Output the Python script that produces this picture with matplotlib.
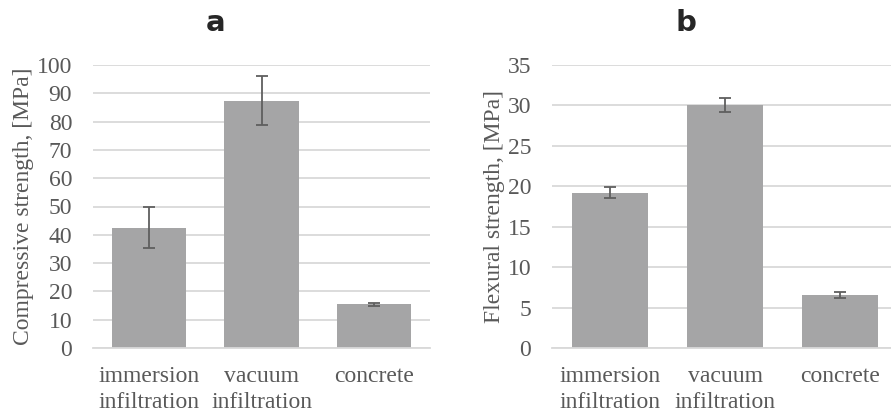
import matplotlib
matplotlib.use("Agg")
import matplotlib.pyplot as plt
import numpy as np

categories = ["immersion\ninfiltration", "vacuum\ninfiltration", "concrete"]

comp_mean = [42.3, 87.3, 15.4]
comp_err_hi = [7.4, 8.7, 0.5]
comp_err_lo = [6.9, 8.6, 0.5]

flex_mean = [19.2, 30.1, 6.55]
flex_err_hi = [0.7, 0.8, 0.4]
flex_err_lo = [0.7, 0.9, 0.35]

BAR = "#a5a5a6"
GRID = "#d9d9d9"
TXT = "#595959"
SERIF = "Liberation Serif"

fig = plt.figure(figsize=(8.91, 4.12), dpi=100)
W, H = 891, 412


def panel(rect, means, lo, hi, ymax, step, ylabel, title, title_x):
    ax = fig.add_axes(rect)
    x = np.arange(len(means))
    ax.bar(x, means, width=0.66, color=BAR, zorder=2)
    ax.errorbar(x, means, yerr=[lo, hi], fmt="none", ecolor="#5f5f5f",
                elinewidth=1.3, capsize=4, capthick=1.3, zorder=3)
    ax.set_xlim(-0.5, len(means) - 0.5)
    ax.set_ylim(0, ymax)
    ax.set_yticks(np.arange(0, ymax + 0.1, step))
    ax.yaxis.grid(True, color=GRID, linewidth=1.3, zorder=0)
    ax.set_axisbelow(True)
    for s in ["top", "right", "left"]:
        ax.spines[s].set_visible(False)
    ax.spines["bottom"].set_color(GRID)
    ax.spines["bottom"].set_linewidth(1.3)
    ax.tick_params(length=0, labelcolor=TXT, labelsize=17)
    ax.tick_params(axis="y", pad=15)
    ax.tick_params(axis="x", pad=13)
    ax.set_xticks(x)
    ax.set_xticklabels(categories, linespacing=1.3)
    for lab in ax.get_xticklabels() + ax.get_yticklabels():
        lab.set_family(SERIF)
    ax.set_ylabel(ylabel, family=SERIF, fontsize=17, color=TXT, labelpad=2)
    fig.text(title_x / W, 1 - 23 / H, title, ha="center", va="center",
             fontsize=21, fontweight="heavy", color="#262626",
             family="DejaVu Sans")
    return ax


bottom = 64 / H
height = (348 - 65) / H
panel([93 / W, bottom, 337 / W, height], comp_mean, comp_err_lo, comp_err_hi,
      100, 10, "Compressive strength, [MPa]", "a", 216)
panel([552 / W, bottom, 346 / W, height], flex_mean, flex_err_lo, flex_err_hi,
      35, 5, "Flexural strength, [MPa]", "b", 686)

fig.savefig("out.png", dpi=100)
